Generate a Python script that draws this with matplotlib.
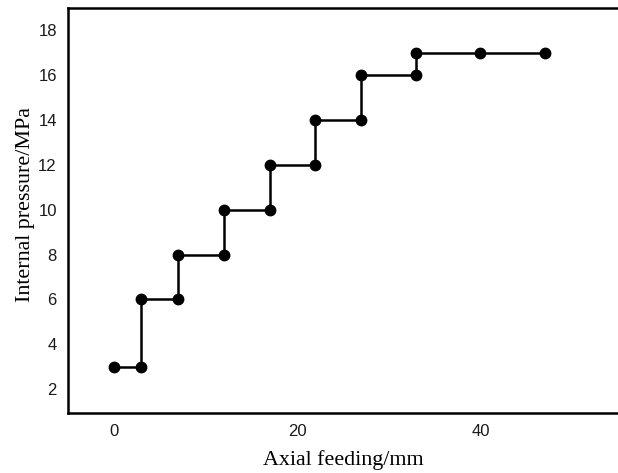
import matplotlib
matplotlib.use("Agg")
import matplotlib.pyplot as plt

# Loading path: axial feed vs. internal pressure
feed_mm = [0, 3, 3, 7, 7, 12, 12, 17, 17, 22, 22, 27, 27, 33, 33, 40, 47]
pressure_mpa = [3, 3, 6, 6, 8, 8, 10, 10, 12, 12, 14, 14, 16, 16, 17, 17, 17]
x_ticks = [0, 20, 40]
y_ticks = [2, 4, 6, 8, 10, 12, 14, 16, 18]

fig = plt.figure(figsize=(6.18, 4.73), dpi=100)
ax = fig.add_axes([0.110, 0.127, 0.89, 0.856])

ax.plot(feed_mm, pressure_mpa, color="black", linewidth=1.8,
        marker="o", markersize=7.5, markerfacecolor="black",
        markeredgecolor="black", solid_capstyle="butt")

ax.set_xlim(-5, 55)
ax.set_ylim(0.93, 19.0)
ax.set_xticks(x_ticks)
ax.set_yticks(y_ticks)
ax.tick_params(length=0, labelsize=12, labelcolor="#1a1a1a", pad=8)
for lbl in ax.get_xticklabels() + ax.get_yticklabels():
    lbl.set_family("Liberation Sans")

for side in ("left", "bottom", "top"):
    ax.spines[side].set_linewidth(1.8)
ax.spines["right"].set_visible(False)

ax.set_xlabel("Axial feeding/mm", family="Liberation Serif", fontsize=15.8, labelpad=8)
ax.set_ylabel("Internal pressure/MPa", family="Liberation Serif", fontsize=15.8, labelpad=2.5)
ax.yaxis.label.set_y(0.515)

fig.savefig("out.png", dpi=100)
